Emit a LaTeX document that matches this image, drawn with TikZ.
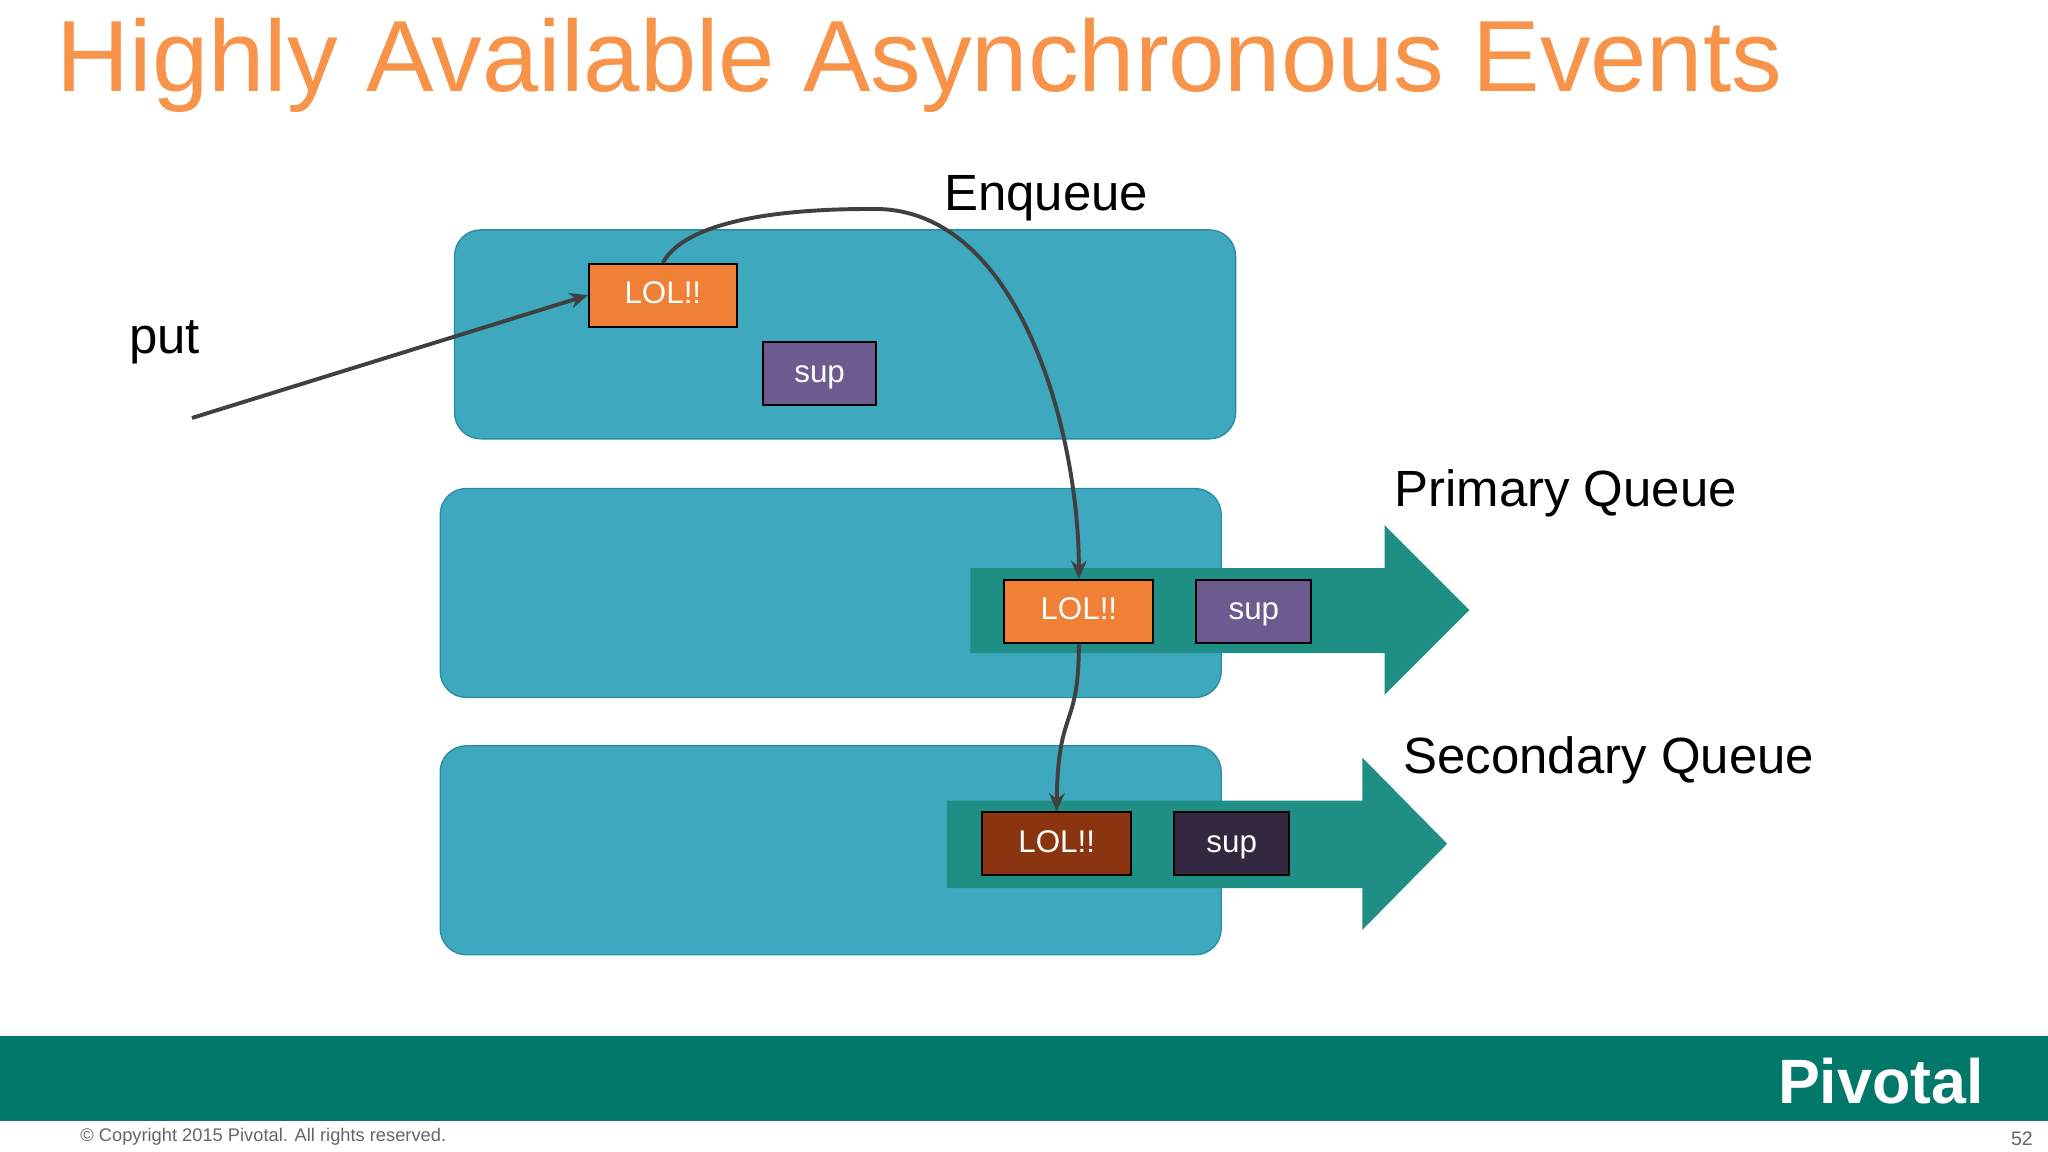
\documentclass[tikz,border=0pt]{standalone}
\usepackage{fontspec}
\setmainfont{Liberation Sans}
\usetikzlibrary{positioning,shapes.arrows,calc,arrows.meta}
\definecolor{titleorange}{HTML}{F7944A}
\definecolor{boxteal}{HTML}{3DA8BE}
\definecolor{boxedge}{HTML}{2A8C9E}
\definecolor{arrowteal}{HTML}{1F8F86}
\definecolor{lolorange}{HTML}{F08035}
\definecolor{supviolet}{HTML}{6D5A8E}
\definecolor{lolbrown}{HTML}{8A3510}
\definecolor{supdark}{HTML}{33283F}
\definecolor{bandgreen}{HTML}{02786A}
\tikzset{
  region/.style={draw=boxedge, fill=boxteal, rounded corners=20pt, line width=1pt},
  msg/.style={draw=black, line width=1.5pt, text=white, minimum height=48pt, inner sep=0pt,
    text height=18pt, text depth=5pt, font=\fontsize{24}{24}\selectfont},
  label/.style={font=\fontsize{39}{39}\selectfont, text=black},
  flow/.style={draw=black!75, line width=3pt, -{Stealth[length=14pt,width=12pt]}},
}
\begin{document}
\begin{tikzpicture}[x=1pt,y=-1pt]
		\useasboundingbox (0,0) rectangle (1568,882);
		\fill[white] (0,0) rectangle (1568,882);
		\node[anchor=base west, text=titleorange, font=\fontsize{77.5}{77.5}\selectfont] (title) at (40,70) {Highly Available Asynchronous Events};
%		regions
		\draw[region] (348,176) rectangle (946,336);
		\draw[region] (337,374) rectangle (935,534);
		\draw[region] (337,571) rectangle (935,731);
%		queues
		\fill[arrowteal] (743,435) -- (1060,435) -- (1060,402) -- (1125,467) -- (1060,532) -- (1060,500) -- (743,500) -- cycle;
		\fill[arrowteal] (725,613) -- (1043,613) -- (1043,580) -- (1108,646) -- (1043,712) -- (1043,680) -- (725,680) -- cycle;
		\node[msg, fill=lolorange, minimum width=113pt] (lolA) at (507.5,226) {LOL!!};
		\node[msg, fill=supviolet, minimum width=87pt] (supA) at (627.5,286) {sup};
		\node[msg, fill=lolorange, minimum width=114pt] (lolB) at (826,468) {LOL!!};
		\node[msg, fill=supviolet, minimum width=88pt] (supB) at (960,468) {sup};
		\node[msg, fill=lolbrown, minimum width=114pt] (lolC) at (809,646) {LOL!!};
		\node[msg, fill=supdark, minimum width=88pt] (supC) at (943,646) {sup};
		\node[label] (put) at (126,262) {put};
		\node[label] (enq) at (801,152) {Enqueue};
		\node[label, anchor=west] (prim) at (1064,378) {Primary Queue};
		\node[label, anchor=west] (sec) at (1071,582) {Secondary Queue};
		\coordinate (putstart) at (147,320);
		\draw[flow] (putstart) -- (lolA.west);
		\draw[flow] (lolA.north) .. controls (530,160) and (640,160) .. (670,160) .. controls (780,160) and (826,330) .. (lolB.north);
		\draw[flow] (lolB.south) .. controls (826,560) and (810,540) .. (lolC.north);
%		footer
		\fill[bandgreen] (0,793) rectangle (1568,858);
		\node[text=white, font=\fontsize{48}{48}\selectfont\bfseries] (logo) at (1440,828) {Pivotal};
		\node[anchor=west, text=black!60, font=\fontsize{14}{14}\selectfont] (copy) at (58,870) {© Copyright 2015 Pivotal. All rights reserved.};
		\node[text=black!60, font=\fontsize{15}{15}\selectfont] (page) at (1548,872) {52};
\end{tikzpicture}
\end{document}
